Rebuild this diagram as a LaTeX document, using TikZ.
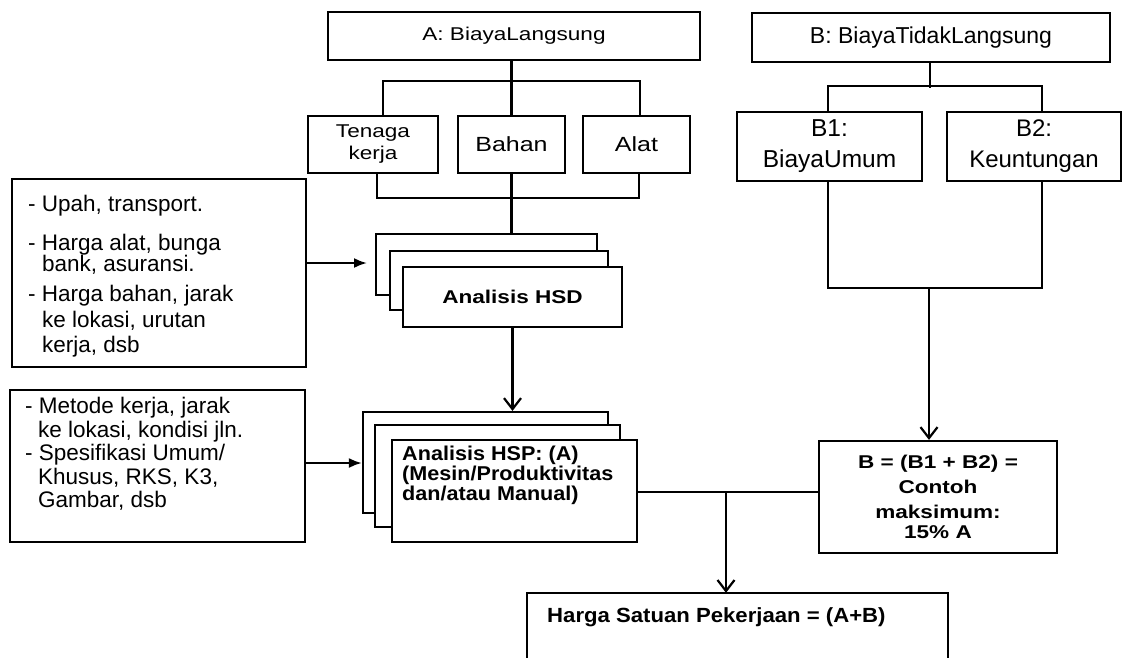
\documentclass[tikz,border=0pt]{standalone}
\usepackage{fontspec}
\setmainfont{Liberation Sans}
\newfontfamily\wfont[FakeStretch=1.22]{Liberation Sans}
\newfontfamily\mfont[FakeStretch=1.08]{Liberation Sans}
\usetikzlibrary{arrows.meta}
\begin{document}
\begin{tikzpicture}[x=1pt,y=-1pt,
  box/.style={draw, line width=2.2pt, inner sep=0pt, fill=white, align=center},
  ln/.style={line width=2.2pt},
  vtip/.style={line width=2.2pt, -{Straight Barb[length=11pt,width=17pt]}},
  ftip/.style={line width=2.2pt, -{Latex[length=13pt,width=10pt]}},
  topfont/.style={font=\wfont\fontsize{18.5}{22}\selectfont},
  leftfont/.style={font=\fontsize{22.5}{25}\selectfont}
]
\useasboundingbox (0,0) rectangle (1123,657);
\fill[white] (0,0) rectangle (1123,657);

% top level
\node[box, topfont, minimum width=372pt, minimum height=48pt] (A) at (514,36) {A: BiayaLangsung};
\node[box, font=\fontsize{23}{26}\selectfont, minimum width=358pt, minimum height=49pt] (B) at (931,37.5) {B: BiayaTidakLangsung};

% A children
\node[box, topfont, minimum width=130pt, minimum height=57pt] (Ten) at (373,144.5) {Tenaga\\kerja};
\node[box, font=\wfont\fontsize{20.5}{24}\selectfont, minimum width=107pt, minimum height=57pt] (Bahan) at (511.5,144.5) {Bahan};
\node[box, font=\wfont\fontsize{20.5}{24}\selectfont, minimum width=107pt, minimum height=57pt] (Alat) at (636.5,144.5) {Alat};

% B children
\node[box, font=\fontsize{24.5}{31}\selectfont, minimum width=185pt, minimum height=69pt] (B1) at (829.5,146.5) {B1:\\BiayaUmum};
\node[box, font=\fontsize{24}{31}\selectfont, minimum width=174pt, minimum height=69pt] (B2) at (1034,146.5) {B2:\\Keuntungan};

% left boxes
\node[box, minimum width=294pt, minimum height=188pt] (L1) at (159,273) {};
\node[anchor=north west, inner sep=0pt, align=left, leftfont] (t1) at (28,195)
  {- Upah, transport.\\[14pt]
   - Harga alat, bunga\\[-4pt]
   \hspace*{14pt}bank, asuransi.\\[5pt]
   - Harga bahan, jarak\\[1pt]
   \hspace*{14pt}ke lokasi, urutan\\
   \hspace*{14pt}kerja, dsb};
\node[box, minimum width=295pt, minimum height=152pt] (L2) at (157.5,466) {};
\node[anchor=north west, inner sep=0pt, align=left, font=\fontsize{22.5}{23.5}\selectfont] (t2) at (25,397)
  {- Metode kerja, jarak\\
   \hspace*{13pt}ke lokasi, kondisi jln.\\
   - Spesifikasi Umum/\\
   \hspace*{13pt}Khusus, RKS, K3,\\
   \hspace*{13pt}Gambar, dsb};

% HSD stack
\node[box, minimum width=221pt, minimum height=61pt] (hsdb) at (486.5,264.5) {};
\node[box, minimum width=218pt, minimum height=59pt] (hsdm) at (499,280.5) {};
\node[box, font=\wfont\bfseries\fontsize{18.5}{22}\selectfont, minimum width=219pt, minimum height=60pt] (hsdf) at (512.5,297) {Analisis HSD};

% HSP stack
\node[box, minimum width=245pt, minimum height=101pt] (hspb) at (485.5,462.5) {};
\node[box, minimum width=245pt, minimum height=102pt] (hspm) at (497.5,476) {};
\node[box, minimum width=245pt, minimum height=102pt] (hspf) at (514.5,491) {};
\node[anchor=north west, inner sep=0pt, align=left, font=\mfont\bfseries\fontsize{20}{20}\selectfont] (t3) at (402,446)
  {Analisis HSP: (A)\\(Mesin/Produktivitas\\dan/atau Manual)};

% formula box
\node[box, font=\wfont\bfseries\fontsize{18.5}{25}\selectfont, minimum width=238pt, minimum height=112pt] (frm) at (938,497)
  {B = (B1 + B2) =\\Contoh\\maksimum:\\[-5pt]15\% A};

% bottom box (cut by the page edge)
\node[inner sep=0pt, minimum width=421pt, minimum height=67pt] (bot) at (737.5,626.5) {};
\draw[ln] (bot.south west) -- (bot.north west) -- (bot.north east) -- (bot.south east);
\node[anchor=base west, inner sep=0pt, font=\mfont\bfseries\fontsize{20.5}{24}\selectfont] (t4) at (547,622) {Harga Satuan Pekerjaan = (A+B)};

% connectors A side
\draw[ln] (Bahan.north |- A.south) -- (Bahan.north);
\draw[ln] ([xshift=10pt]Ten.north) -- ++(0,-34) -| ([xshift=3.5pt]Alat.north);
\draw[ln] ([xshift=4pt]Ten.south) -- ++(0,24) -| ([xshift=2.5pt]Alat.south);
\draw[ln] (Bahan.south) -- (Bahan.south |- hsdb.north);
\draw[vtip] (hsdf.south) -- (hsdf.south |- hspb.north);

% arrows from left boxes
\coordinate (a1) at (367,263);
\draw[ftip] (L1.east |- a1) -- (a1);
\coordinate (a2) at (363,463);
\draw[ftip] (L2.east |- a2) -- (hspb.west |- a2);

% HSP to formula and total
\coordinate (jn) at (726,492);
\draw[ln] (hspf.east |- jn) -- (frm.west |- jn);
\draw[vtip] (jn) -- (jn |- bot.north);

% B side
\draw[ln] ([xshift=-1pt]B.south) -- ++(0,25);
\draw[ln] ([xshift=-1.5pt]B1.north) -- ++(0,-25) -| ([xshift=8pt]B2.north);
\draw[ln] ([xshift=-1.5pt]B1.south) -- ++(0,106) -| ([xshift=8pt]B2.south);
\coordinate (jb) at (929,287);
\draw[vtip] (jb) -- (jb |- frm.north);
\end{tikzpicture}
\end{document}
